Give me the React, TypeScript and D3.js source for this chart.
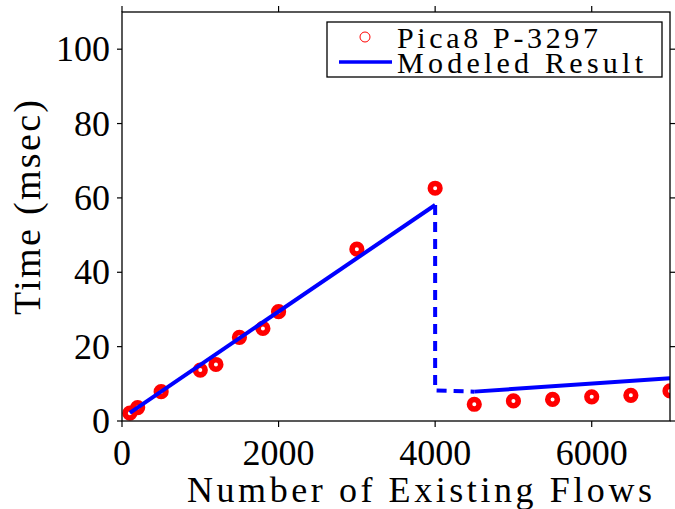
import React from "react";
import * as d3 from "d3";

const flows = [100, 200, 500, 1000, 1200, 1500, 1800, 2000, 3000, 4000, 4500, 5000, 5500, 6000, 6500, 7000];
const times = [2.1, 3.6, 7.9, 13.7, 15.2, 22.5, 24.9, 29.4, 46.2, 62.6, 4.5, 5.4, 5.8, 6.5, 6.9, 8.1];

const modelSolidA: [number, number][] = [[100, 2.2], [4000, 58.1]];
const modelDashed: [number, number][] = [[4000, 58.1], [4000, 8.2], [4500, 7.9]];
const modelSolidB: [number, number][] = [[4500, 7.9], [7000, 11.5]];

const xTicks = [0, 2000, 4000, 6000];
const yTicks = [0, 20, 40, 60, 80, 100];
const legendLabels = ["Pica8 P-3297", "Modeled Result"];
const xLabel = "Number of Existing Flows";
const yLabel = "Time (msec)";

const W = 675, H = 509;
const L = 122, R = 670, T = 12, B = 421;
const FONT = "Liberation Serif";

export default function App() {
  const x = d3.scaleLinear().domain([0, 7000]).range([L, R]);
  const y = d3.scaleLinear().domain([0, 110]).range([B, T]);
  const line = d3.line<[number, number]>().x(d => x(d[0])).y(d => y(d[1]));
  const tick = 6;
  return (
    <svg width={W} height={H} style={{ position: "absolute", left: 0, top: 0, background: "#fff" }}>
      <defs>
        <clipPath id="plot">
          <rect x={L} y={T} width={R - L} height={B - T} />
        </clipPath>
      </defs>
      <rect x={0} y={0} width={W} height={H} fill="#fff" />
      <g clipPath="url(#plot)">
        {flows.map((f, i) => (
          <circle key={i} cx={x(f)} cy={y(times[i])} r={4.8} fill="#fff" stroke="#ff0000" strokeWidth={5.6} />
        ))}
        <path d={line(modelSolidA) || ""} fill="none" stroke="#0000ff" strokeWidth={4} />
        <path d={line(modelDashed) || ""} fill="none" stroke="#0000ff" strokeWidth={4} strokeDasharray="10,7" />
        <path d={line(modelSolidB) || ""} fill="none" stroke="#0000ff" strokeWidth={4} />
      </g>
      <rect x={L} y={T} width={R - L} height={B - T} fill="none" stroke="#000" strokeWidth={1.3} />
      {yTicks.map(t => (
        <g key={"y" + t}>
          <line x1={L - tick + 1} x2={L} y1={y(t)} y2={y(t)} stroke="#000" strokeWidth={1.2} />
          <line x1={R} x2={R + tick - 1} y1={y(t)} y2={y(t)} stroke="#000" strokeWidth={1.2} />
          <text x={L - 12} y={y(t) + 12} textAnchor="end" fontFamily={FONT} fontSize={36} fill="#000">{t}</text>
        </g>
      ))}
      {xTicks.map(t => (
        <g key={"x" + t}>
          <line x1={x(t)} x2={x(t)} y1={B} y2={B + tick} stroke="#000" strokeWidth={1.2} />
          <line x1={x(t)} x2={x(t)} y1={T - tick} y2={T} stroke="#000" strokeWidth={1.2} />
          <text x={x(t)} y={465} textAnchor="middle" fontFamily={FONT} fontSize={36} fill="#000">{t}</text>
        </g>
      ))}
      <text x={187} y={502} fontFamily={FONT} fontSize={36} fill="#000" textLength={465} lengthAdjust="spacing">{xLabel}</text>
      <text transform={`translate(40,315) rotate(-90)`} x={0} y={0} fontFamily={FONT} fontSize={38} fill="#000" textLength={215} lengthAdjust="spacing">{yLabel}</text>
      <rect x={327} y={22} width={335} height={55} fill="#fff" stroke="#000" strokeWidth={1.3} />
      <circle cx={365} cy={37} r={5} fill="none" stroke="#ff0000" strokeWidth={1} />
      <line x1={339} x2={392} y1={62} y2={62} stroke="#0000ff" strokeWidth={3.5} />
      <text x={397} y={48} fontFamily={FONT} fontSize={30} fill="#000" textLength={201} lengthAdjust="spacing">{legendLabels[0]}</text>
      <text x={397} y={73} fontFamily={FONT} fontSize={30} fill="#000" textLength={246} lengthAdjust="spacing">{legendLabels[1]}</text>
    </svg>
  );
}
